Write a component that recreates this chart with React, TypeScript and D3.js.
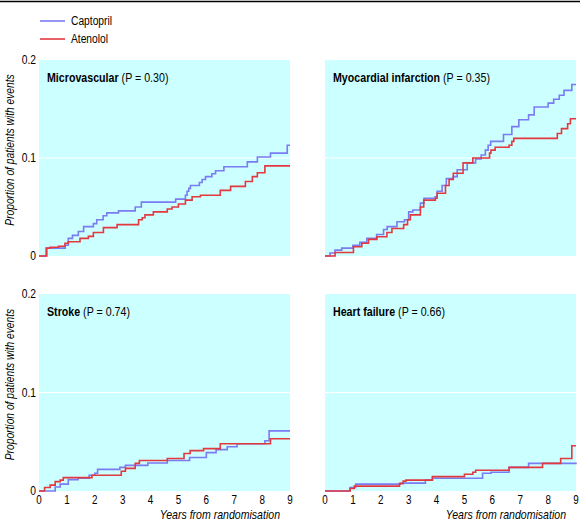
import React from "react";
import * as d3 from "d3";

type Pt = [number, number];

const seriesNames = ["Captopril", "Atenolol"];
const panelTitles = ["Microvascular", "Myocardial infarction", "Stroke", "Heart failure"];
const panelPValues = ["(P = 0.30)", "(P = 0.35)", "(P = 0.74)", "(P = 0.66)"];
const xTicks = [0, 1, 2, 3, 4, 5, 6, 7, 8, 9];
const yTicks = [0, 0.1, 0.2];
const yTickLabels = ["0", "0.1", "0.2"];

const microCaptopril: Pt[] = [
  [0, 0], [0.25, 0.008], [0.94, 0.011], [1.05, 0.018], [1.2, 0.021], [1.41, 0.025], [1.6, 0.03],
  [1.95, 0.033], [2.07, 0.037], [2.3, 0.041], [2.43, 0.044], [2.85, 0.046], [3.45, 0.05], [3.67, 0.055],
  [4.9, 0.058], [5.25, 0.062], [5.31, 0.066], [5.37, 0.069], [5.43, 0.072], [5.75, 0.075], [5.85, 0.078],
  [5.97, 0.081], [6.2, 0.084], [6.33, 0.087], [6.63, 0.091], [7.47, 0.096], [7.83, 0.101], [8.3, 0.105],
  [8.9, 0.113], [9, 0.113],
];
const microAtenolol: Pt[] = [
  [0, 0], [0.28, 0.008], [0.4, 0.009], [0.7, 0.01], [0.93, 0.013], [1.05, 0.0146], [1.47, 0.018],
  [1.77, 0.02], [1.95, 0.024], [2.31, 0.029], [2.8, 0.032], [3.57, 0.037], [3.7, 0.039], [3.8, 0.042],
  [4.1, 0.045], [4.6, 0.048], [4.77, 0.05], [5.0, 0.053], [5.25, 0.057], [5.49, 0.0605], [5.79, 0.062],
  [6.5, 0.067], [6.87, 0.071], [7.4, 0.076], [7.65, 0.081], [7.83, 0.085], [8.1, 0.092], [9, 0.092],
];
const miCaptopril: Pt[] = [
  [0, 0], [0.18, 0.003], [0.36, 0.006], [0.6, 0.008], [1.0, 0.011], [1.25, 0.014], [1.5, 0.018],
  [1.85, 0.022], [2.1, 0.027], [2.23, 0.03], [2.58, 0.035], [2.85, 0.037], [3.0, 0.045], [3.15, 0.047],
  [3.42, 0.054], [3.55, 0.059], [3.95, 0.0605], [4.02, 0.066], [4.2, 0.072], [4.35, 0.079], [4.6, 0.081],
  [4.74, 0.088], [5.1, 0.095], [5.4, 0.099], [5.6, 0.103], [5.75, 0.108], [5.85, 0.113], [5.94, 0.117],
  [6.4, 0.124], [6.7, 0.132], [6.95, 0.139], [7.3, 0.144], [7.5, 0.152], [8.0, 0.156], [8.2, 0.16],
  [8.4, 0.164], [8.57, 0.169], [8.85, 0.175], [9, 0.175],
];
const miAtenolol: Pt[] = [
  [0, 0], [0.36, 0.0035], [1.02, 0.0095], [1.32, 0.013], [1.56, 0.017], [1.86, 0.0197], [2.22, 0.024],
  [2.4, 0.028], [2.82, 0.032], [2.96, 0.037], [3.06, 0.042], [3.42, 0.05], [3.54, 0.057], [3.96, 0.059],
  [4.02, 0.064], [4.32, 0.072], [4.45, 0.078], [4.6, 0.0845], [4.95, 0.095], [5.3, 0.1], [5.9, 0.105],
  [5.95, 0.108], [6.1, 0.111], [6.6, 0.113], [6.7, 0.117], [6.77, 0.12], [8.33, 0.125], [8.48, 0.13],
  [8.7, 0.135], [8.8, 0.14], [9, 0.14],
];
const strokeCaptopril: Pt[] = [
  [0, 0], [0.58, 0.004], [0.76, 0.007], [1.05, 0.0115], [1.4, 0.013], [1.8, 0.016], [2.0, 0.018],
  [2.1, 0.022], [2.9, 0.024], [3.1, 0.026], [3.9, 0.0285], [4.6, 0.031], [5.4, 0.034], [6.0, 0.039],
  [6.35, 0.042], [6.75, 0.045], [7.1, 0.048], [8.1, 0.051], [8.25, 0.061], [9, 0.061],
];
const strokeAtenolol: Pt[] = [
  [0, 0], [0.2, 0.0035], [0.4, 0.006], [0.58, 0.0095], [0.76, 0.011], [0.87, 0.0136], [1.9, 0.016],
  [2.95, 0.02], [3.1, 0.023], [3.45, 0.028], [3.6, 0.031], [4.6, 0.033], [5.2, 0.038], [5.42, 0.041],
  [5.9, 0.043], [6.5, 0.048], [8.3, 0.053], [9, 0.053],
];
const hfCaptopril: Pt[] = [
  [0, 0], [0.9, 0.0035], [1.1, 0.007], [2.7, 0.008], [3.6, 0.011], [3.85, 0.013], [5.65, 0.018],
  [5.95, 0.019], [6.6, 0.024], [7.3, 0.028], [9, 0.029],
];
const hfAtenolol: Pt[] = [
  [0, 0], [0.9, 0.0025], [1.05, 0.005], [2.67, 0.0075], [2.8, 0.01], [2.9, 0.011], [3.85, 0.0146],
  [5.0, 0.017], [5.3, 0.019], [5.4, 0.021], [6.6, 0.024], [7.8, 0.028], [8.45, 0.033], [8.85, 0.046],
  [9, 0.046],
];

const panelData: Pt[][][] = [
  [microCaptopril, microAtenolol],
  [miCaptopril, miAtenolol],
  [strokeCaptopril, strokeAtenolol],
  [hfCaptopril, hfAtenolol],
];

const COLORS = ["#7b7bf2", "#e2393f"];
const FONT = "'Liberation Sans', Arial, Helvetica, sans-serif";
const SX = 0.82;

const W = 580;
const H = 528;
const colX = [[39, 290], [325, 576]];
const rowY = [[60, 256], [294, 491]];

function Txt(props: {
  x: number;
  y: number;
  sx?: number;
  rotate?: number;
  anchor?: string;
  size?: number;
  italic?: boolean;
  dy?: string;
  children: React.ReactNode;
}) {
  const { x, y, sx = SX, rotate = 0, anchor = "start", size = 12, italic = false, dy } = props;
  const tf = `translate(${x},${y})${rotate ? ` rotate(${rotate})` : ""} scale(${sx},1)`;
  return (
    <text
      transform={tf}
      textAnchor={anchor}
      fontSize={size}
      fontStyle={italic ? "italic" : "normal"}
      fontFamily={FONT}
      dy={dy}
      fill="#000"
    >
      {props.children}
    </text>
  );
}

function Panel({ idx }: { idx: number }) {
  const col = idx % 2;
  const row = Math.floor(idx / 2);
  const [x0, x1] = colX[col];
  const [y0, y1] = rowY[row];
  const x = d3.scaleLinear().domain([0, 9]).range([x0, x1]);
  const y = d3.scaleLinear().domain([0, 0.2]).range([y1, y0]);
  const line = d3
    .line<Pt>()
    .x((d) => x(d[0]))
    .y((d) => y(d[1]))
    .curve(d3.curveStepAfter);
  const midY = (y0 + y1) / 2 - 8;
  return (
    <g>
      <rect x={x0} y={y0} width={x1 - x0} height={y1 - y0} fill="#ccffff" />
      <line x1={x0} x2={x1} y1={y(0.1)} y2={y(0.1)} stroke="#ffffff" strokeWidth={1.2} />
      {panelData[idx].map((s, i) => (
        <path key={i} d={line(s) || ""} fill="none" stroke={COLORS[i]} strokeWidth={1.6} />
      ))}
      <Txt x={x0 + 8} y={y0 + 22} size={13}>
        <tspan fontWeight="bold">{panelTitles[idx]}</tspan>
        <tspan> {panelPValues[idx]}</tspan>
      </Txt>
      {col === 0 &&
        yTicks.map((t, i) => (
          <Txt key={t} x={36} y={y(t)} dy="0.35em" anchor="end" size={12.5}>
            {yTickLabels[i]}
          </Txt>
        ))}
      {col === 0 && (
        <Txt x={14} y={midY} rotate={-90} anchor="middle" size={12.5} italic>
          Proportion of patients with events
        </Txt>
      )}
      {row === 1 &&
        xTicks.map((t) => (
          <Txt key={t} x={x(t)} y={504} anchor="middle" size={12}>
            {t}
          </Txt>
        ))}
      {row === 1 && (
        <Txt x={x1 - 10} y={519} anchor="end" size={12} italic sx={0.88}>
          Years from randomisation
        </Txt>
      )}
    </g>
  );
}

export default function App() {
  return (
    <svg
      width={W}
      height={H}
      viewBox={`0 0 ${W} ${H}`}
      style={{ position: "absolute", left: 0, top: 0, background: "#fff" }}
    >
      <line x1={0} x2={W} y1={1.5} y2={1.5} stroke="#000" strokeWidth={1.5} />
      {seriesNames.map((n, i) => (
        <g key={n}>
          <line x1={40} x2={65} y1={21 + i * 18} y2={21 + i * 18} stroke={COLORS[i]} strokeWidth={1.6} />
          <Txt x={71} y={21 + i * 18} dy="0.35em" size={12.5}>
            {n}
          </Txt>
        </g>
      ))}
      {[0, 1, 2, 3].map((i) => (
        <Panel key={i} idx={i} />
      ))}
    </svg>
  );
}
